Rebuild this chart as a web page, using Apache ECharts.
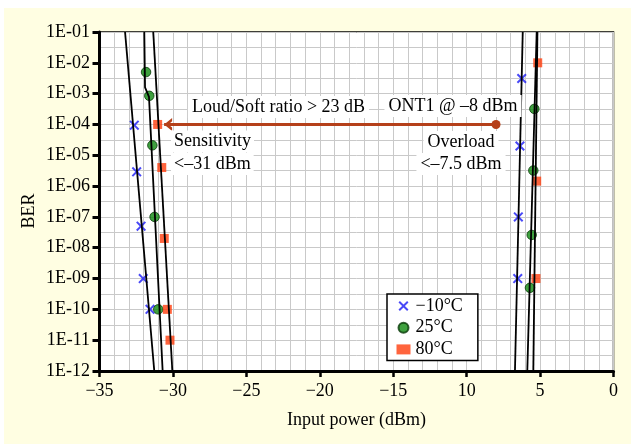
<!DOCTYPE html>
<html><head><meta charset="utf-8">
<script src="https://cdn.jsdelivr.net/npm/echarts@6/dist/echarts.min.js"></script>
<style>
html,body{margin:0;padding:0;background:#fff;}
#c{width:631px;height:444px;background:linear-gradient(#fff,#fff) 0 0/100% 8px no-repeat, linear-gradient(#fff,#fff) 0 0/4px 100% no-repeat, #fffee2;}
</style></head><body><div id="c"></div>
<script>
// ---- data ----
const xTickLabels = ['−35', '−30', '−25', '−20', '−15', '10', '5', '0'];
const yTickLabels = ['1E-12', '1E-11', '1E-10', '1E-09', '1E-08', '1E-07', '1E-06', '1E-05', '1E-04', '1E-03', '1E-02', '1E-01'];
const seriesNames = ['−10°C', '25°C', '80°C'];

// measured points: input power (dBm) and BER
const coldPower = [-32.63, -32.47, -32.17, -32.02, -31.56, -6.25, -6.37, -6.48, -6.52];
const coldBER   = [9.5e-5, 2.9e-6, 5e-8, 1e-9, 1e-10, 3.1e-3, 2e-5, 1e-7, 1e-9];
const roomPower = [-31.83, -31.61, -31.40, -31.25, -31.0, -5.39, -5.46, -5.57, -5.69];
const roomBER   = [5e-3, 8.5e-4, 2.1e-5, 1e-7, 1e-10, 3.2e-4, 3.2e-6, 2.6e-8, 5e-10];
const hotPower  = [-31.04, -30.76, -30.59, -30.38, -30.2, -5.16, -5.23, -5.28];
const hotBER    = [1e-4, 4e-6, 2e-8, 1e-10, 1e-11, 1e-2, 1.45e-6, 1e-9];

// fitted lines: [power, BER] pairs
const fitColdLow  = [[-33.26, 1e-1], [-31.27, 1e-12]];
const fitRoomLow  = [[-31.95, 1e-1], [-31.90, 1.6e-3], [-31.63, 7.8e-4], [-30.70, 1e-12]];
const fitHotLow   = [[-31.34, 1e-1], [-30.04, 1e-12]];
const fitColdHigh = [[-6.18, 1e-1], [-6.71, 1e-12]];
const fitRoomHigh = [[-5.23, 1e-1], [-5.87, 1e-12]];
const fitHotHigh  = [[-5.18, 1e-1], [-5.46, 1e-12]];

// arrow: from sensitivity to ONT1 operating point
const arrowPower = [-30.6, -8];
const arrowBER   = [1e-4, 1e-4];

// ---- chart ----
const FONT = '"Liberation Serif", "Times New Roman", serif';
const lg = v => Math.log10(v);
const pts = (p, b) => p.map((x, i) => [x, lg(b[i])]);
const fitPts = f => f.map(d => [d[0], lg(d[1])]);

const xSym = 'path://M0,1.4L1.4,0L5,3.6L8.6,0L10,1.4L6.4,5L10,8.6L8.6,10L5,6.4L1.4,10L0,8.6L3.6,5Z';
const chevron = 'path://M8,0L0,6.5L8,13L8,9.6L4.2,6.5L8,3.4Z';
const arrowColor = '#b5401a';
const gridColor = '#c9c9c9';

const fitSeries = [fitColdLow, fitRoomLow, fitHotLow, fitColdHigh, fitRoomHigh, fitHotHigh].map(f => ({
  type: 'line', data: fitPts(f), showSymbol: false, symbol: 'none', silent: true,
  lineStyle: { color: '#000', width: 1.8 }, z: 5
}));

const chart = echarts.init(document.getElementById('c'), null, { renderer: 'canvas' });
chart.setOption({
  backgroundColor: 'transparent',
  animation: false,
  grid: { left: 99.5, right: 17.5, top: 32, bottom: 73, show: true, backgroundColor: '#fff', borderColor: '#000', borderWidth: 1.5 },
  xAxis: {
    type: 'value', min: -35, max: 0, interval: 5,
    axisLine: { show: true, onZero: false, lineStyle: { color: '#000', width: 3 } },
    axisTick: { show: true, length: 6, lineStyle: { color: '#000', width: 2.5 } },
    axisLabel: { margin: 11, color: '#000', fontFamily: FONT, fontSize: 18,
      formatter: v => xTickLabels[Math.round((v + 35) / 5)] },
    splitLine: { show: true, lineStyle: { color: gridColor, width: 1 } },
    minorTick: { show: false, splitNumber: 5 },
    minorSplitLine: { show: true, lineStyle: { color: gridColor, width: 1 } },
    name: 'Input power (dBm)', nameLocation: 'middle', nameGap: 40,
    nameTextStyle: { color: '#000', fontFamily: FONT, fontSize: 18 }
  },
  yAxis: {
    type: 'value', min: -12, max: -1, interval: 1,
    axisLine: { show: true, onZero: false, lineStyle: { color: '#000', width: 3 } },
    axisTick: { show: true, length: 7, lineStyle: { color: '#000', width: 3 } },
    axisLabel: { margin: 9.5, color: '#000', fontFamily: FONT, fontSize: 18,
      formatter: v => yTickLabels[Math.round(v) + 12] },
    splitLine: { show: true, lineStyle: { color: gridColor, width: 1 } },
    minorTick: { show: false, splitNumber: 2 },
    minorSplitLine: { show: true, lineStyle: { color: gridColor, width: 1 } }
  },
  legend: {
    data: seriesNames, orient: 'vertical', left: 387, top: 294,
    padding: [3, 15, 2, 9.5], itemGap: 3.7, itemWidth: 14, itemHeight: 10,
    backgroundColor: '#fff', borderColor: '#000', borderWidth: 1.5, borderRadius: 0,
    selectedMode: false,
    textStyle: { color: '#000', fontFamily: FONT, fontSize: 18 }
  },
  graphic: [
    { type: 'text', x: 278.5, y: 107, z: 10, style: { text: 'Loud/Soft ratio > 23 dB', font: '18px ' + FONT, fill: '#000', align: 'center', verticalAlign: 'middle', backgroundColor: '#fff', padding: [2, 4] } },
    { type: 'text', x: 453, y: 106, z: 10, style: { text: 'ONT1 @ –8 dBm', font: '18px ' + FONT, fill: '#000', align: 'center', verticalAlign: 'middle', backgroundColor: '#fff', padding: [2, 4] } },
    { type: 'text', x: 171, y: 141.5, z: 10, style: { text: 'Sensitivity', font: '18px ' + FONT, fill: '#000', align: 'left', verticalAlign: 'middle', backgroundColor: '#fff', padding: [2, 3] } },
    { type: 'text', x: 171, y: 164, z: 10, style: { text: '<–31 dBm', font: '18px ' + FONT, fill: '#000', align: 'left', verticalAlign: 'middle', backgroundColor: '#fff', padding: [2, 3] } },
    { type: 'text', x: 461, y: 142, z: 10, style: { text: 'Overload', font: '18px ' + FONT, fill: '#000', align: 'center', verticalAlign: 'middle', backgroundColor: '#fff', padding: [2, 4] } },
    { type: 'text', x: 461, y: 164, z: 10, style: { text: '<–7.5 dBm', font: '18px ' + FONT, fill: '#000', align: 'center', verticalAlign: 'middle', backgroundColor: '#fff', padding: [2, 4] } },
    { type: 'text', x: 29.5, y: 211, rotation: Math.PI / 2, z: 10, style: { text: 'BER', font: '18px ' + FONT, fill: '#000', align: 'center', verticalAlign: 'middle' } }
  ],
  series: [
    { name: seriesNames[0], type: 'scatter', data: pts(coldPower, coldBER), symbol: xSym, symbolSize: 10,
      itemStyle: { color: '#1a1af5' }, z: 3 },
    { name: seriesNames[1], type: 'scatter', data: pts(roomPower, roomBER), symbol: 'circle', symbolSize: 9.5,
      itemStyle: { color: '#0f8a0f', borderColor: '#083808', borderWidth: 1 }, z: 3 },
    { name: seriesNames[2], type: 'scatter', data: pts(hotPower, hotBER), symbol: 'rect', symbolSize: [9, 9],
      itemStyle: { color: '#ff3d0d' }, z: 3 },
    ...fitSeries,
    { type: 'line', silent: true, z: 6,
      data: [
        { value: [arrowPower[0], lg(arrowBER[0])], symbol: chevron, symbolSize: [8, 13], symbolOffset: [4, 0] },
        { value: [arrowPower[1], lg(arrowBER[1])], symbol: 'circle', symbolSize: 9 }
      ],
      showSymbol: true, lineStyle: { color: arrowColor, width: 3 }, itemStyle: { color: arrowColor } }
  ]
});
</script></body></html>
